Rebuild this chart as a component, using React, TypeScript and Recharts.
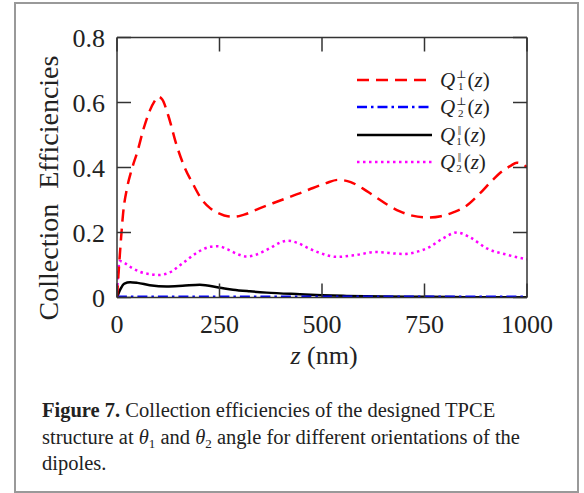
import React from 'react';
import { LineChart, Line, XAxis, YAxis, Legend } from 'recharts';

// z positions (nm) and collection efficiencies
const zPerp1 = [0, 3, 8, 15, 25, 35, 50, 65, 80, 92, 100, 110, 125, 145, 165, 185, 205, 227, 250, 270, 288, 310, 349, 380, 414, 450, 478, 510, 539, 570, 600, 630, 660, 690, 720, 759, 790, 820, 850, 885, 915, 941, 960, 975, 990, 1000];
const qPerp1 = [0, 0.06, 0.15, 0.26, 0.34, 0.39, 0.45, 0.52, 0.575, 0.605, 0.618, 0.61, 0.56, 0.47, 0.4, 0.35, 0.305, 0.275, 0.258, 0.25, 0.249, 0.255, 0.275, 0.29, 0.306, 0.323, 0.337, 0.352, 0.362, 0.355, 0.335, 0.31, 0.285, 0.265, 0.252, 0.246, 0.25, 0.262, 0.28, 0.32, 0.36, 0.39, 0.405, 0.415, 0.41, 0.4];

const zPerp2 = [0, 5, 100, 300, 500, 700, 1000];
const qPerp2 = [0, 0.002, 0.002, 0.002, 0.002, 0.002, 0.002];

const zPar1 = [0, 8, 18, 32, 50, 80, 121, 160, 202, 251, 283, 324, 365, 446, 500, 560, 650, 750, 850, 1000];
const qPar1 = [0, 0.025, 0.043, 0.047, 0.045, 0.038, 0.034, 0.036, 0.039, 0.03, 0.024, 0.019, 0.015, 0.01, 0.007, 0.005, 0.003, 0.002, 0.001, 0.0005];

const zPar2 = [0, 3, 7, 20, 35, 56, 80, 100, 125, 161, 195, 227, 246, 270, 295, 316, 340, 373, 400, 417, 440, 470, 495, 536, 580, 630, 698, 730, 763, 795, 829, 860, 902, 950, 991, 1000];
const qPar2 = [0, 0.08, 0.112, 0.105, 0.092, 0.079, 0.072, 0.069, 0.075, 0.106, 0.138, 0.156, 0.158, 0.148, 0.133, 0.126, 0.132, 0.152, 0.17, 0.175, 0.168, 0.15, 0.137, 0.125, 0.13, 0.14, 0.134, 0.14, 0.156, 0.182, 0.2, 0.186, 0.151, 0.132, 0.12, 0.118];

const xTicks = [0, 250, 500, 750, 1000];
const yTicks = [0, 0.2, 0.4, 0.6, 0.8];

const rows = (zs: number[], vs: number[]) => zs.map((z, i) => ({ z, v: vs[i] }));

const SERIF = '"Liberation Serif", "DejaVu Serif", serif';
const AX = '#333';

const legendItems = [
  { id: 'p1', color: '#ff0000', dash: '12 7', sym: '⊥', sub: '1' },
  { id: 'p2', color: '#0000ff', dash: '10 4 2.5 4', sym: '⊥', sub: '2' },
  { id: 'a1', color: '#000000', dash: undefined, sym: '||', sub: '1' },
  { id: 'a2', color: '#ff00ff', dash: '2.5 3.5', sym: '||', sub: '2' },
];

const QLabel = ({ sym, sub }: { sym: string; sub: string }) => (
  <span style={{ fontFamily: SERIF, fontSize: 21, color: '#222', display: 'inline-flex', alignItems: 'center', lineHeight: '22px' }}>
    <i>Q</i>
    <span style={{ display: 'inline-flex', flexDirection: 'column', alignItems: 'center', fontSize: 11, lineHeight: '12px', marginLeft: 1, marginRight: 2 }}>
      <span style={{ letterSpacing: -1 }}>{sym}</span>
      <span>{sub}</span>
    </span>
    <span>(<i>z</i>)</span>
  </span>
);

const LegendBox = () => (
  <div>
    {legendItems.map((it) => (
      <div key={it.id} style={{ display: 'flex', alignItems: 'center', height: 27.5 }}>
        <svg width={78} height={10} style={{ marginRight: 6 }}>
          <line x1={1} y1={5} x2={76} y2={5} stroke={it.color} strokeWidth={2.5} strokeDasharray={it.dash} />
        </svg>
        <QLabel sym={it.sym} sub={it.sub} />
      </div>
    ))}
  </div>
);

const NoTick = () => <g />;

const subStyle: React.CSSProperties = { fontSize: 13, lineHeight: 0, verticalAlign: '-0.3em' };

export default function App() {
  return (
    <div style={{ position: 'absolute', left: 0, top: 0, width: 584, height: 493, background: '#fff', overflow: 'hidden' }}>
      <div style={{ position: 'absolute', left: 14, top: 2, width: 565, height: 491, border: '2px solid #999', boxSizing: 'border-box' }} />
      <div style={{ position: 'absolute', left: 0, top: 0 }}>
        <LineChart width={584} height={493} margin={{ top: 35.5, right: 55, bottom: 165.5, left: 57 }}>
          <XAxis xAxisId="b" dataKey="z" type="number" domain={[0, 1000]} ticks={xTicks} allowDataOverflow
            height={30} tickSize={-14} tickMargin={31} stroke={AX} strokeWidth={1.5}
            tick={{ fill: '#222', fontSize: 26, fontFamily: SERIF }} />
          <XAxis xAxisId="t" orientation="top" dataKey="z" type="number" domain={[0, 1000]} ticks={xTicks} allowDataOverflow
            height={2} tickSize={-14} stroke={AX} strokeWidth={1.5} tick={NoTick} />
          <YAxis yAxisId="l" type="number" domain={[0, 0.8]} ticks={yTicks} allowDataOverflow
            width={60} tickSize={-14} tickMargin={26} stroke={AX} strokeWidth={1.5}
            tick={{ fill: '#222', fontSize: 26, fontFamily: SERIF }} />
          <YAxis yAxisId="r" orientation="right" type="number" domain={[0, 0.8]} ticks={yTicks} allowDataOverflow
            width={2} tickSize={-14} stroke={AX} strokeWidth={1.5} tick={NoTick} />
          <Legend layout="vertical" align="center" verticalAlign="middle" content={() => <LegendBox />}
            wrapperStyle={{ left: 356, top: 66, width: 160, height: 112 }} />
          <Line xAxisId="b" yAxisId="l" data={rows(zPar2, qPar2)} dataKey="v" type="monotone" stroke="#ff00ff" strokeWidth={2.5} strokeDasharray="2.5 3.5" dot={false} isAnimationActive={false} />
          <Line xAxisId="b" yAxisId="l" data={rows(zPar1, qPar1)} dataKey="v" type="monotone" stroke="#000" strokeWidth={2.5} dot={false} isAnimationActive={false} />
          <Line xAxisId="b" yAxisId="l" data={rows(zPerp2, qPerp2)} dataKey="v" type="monotone" stroke="#0000ff" strokeWidth={2.5} strokeDasharray="10 4 2.5 4" dot={false} isAnimationActive={false} />
          <Line xAxisId="b" yAxisId="l" data={rows(zPerp1, qPerp1)} dataKey="v" type="monotone" stroke="#ff0000" strokeWidth={2.5} strokeDasharray="12 7" dot={false} isAnimationActive={false} />
        </LineChart>
      </div>
      <div style={{ position: 'absolute', left: 49, top: 188, transform: 'translate(-50%, -50%) rotate(-90deg)', whiteSpace: 'nowrap', fontFamily: SERIF, fontSize: 28, wordSpacing: 8, color: '#222', lineHeight: 1 }}>
        Collection Efficiencies
      </div>
      <div style={{ position: 'absolute', left: 324, top: 356, transform: 'translate(-50%, -50%)', whiteSpace: 'nowrap', fontFamily: SERIF, fontSize: 26, color: '#222', lineHeight: 1 }}>
        <i>z</i>&nbsp;(nm)
      </div>
      <div style={{ position: 'absolute', left: 42, top: 397, width: 530, whiteSpace: 'nowrap', fontFamily: SERIF, fontSize: 20.5, lineHeight: '26.5px', color: '#222' }}>
        <b>Figure 7.</b> Collection efficiencies of the designed TPCE<br />
        structure at <i>θ</i><sub style={subStyle}>1</sub> and <i>θ</i><sub style={subStyle}>2</sub> angle for different orientations of the<br />
        dipoles.
      </div>
    </div>
  );
}
